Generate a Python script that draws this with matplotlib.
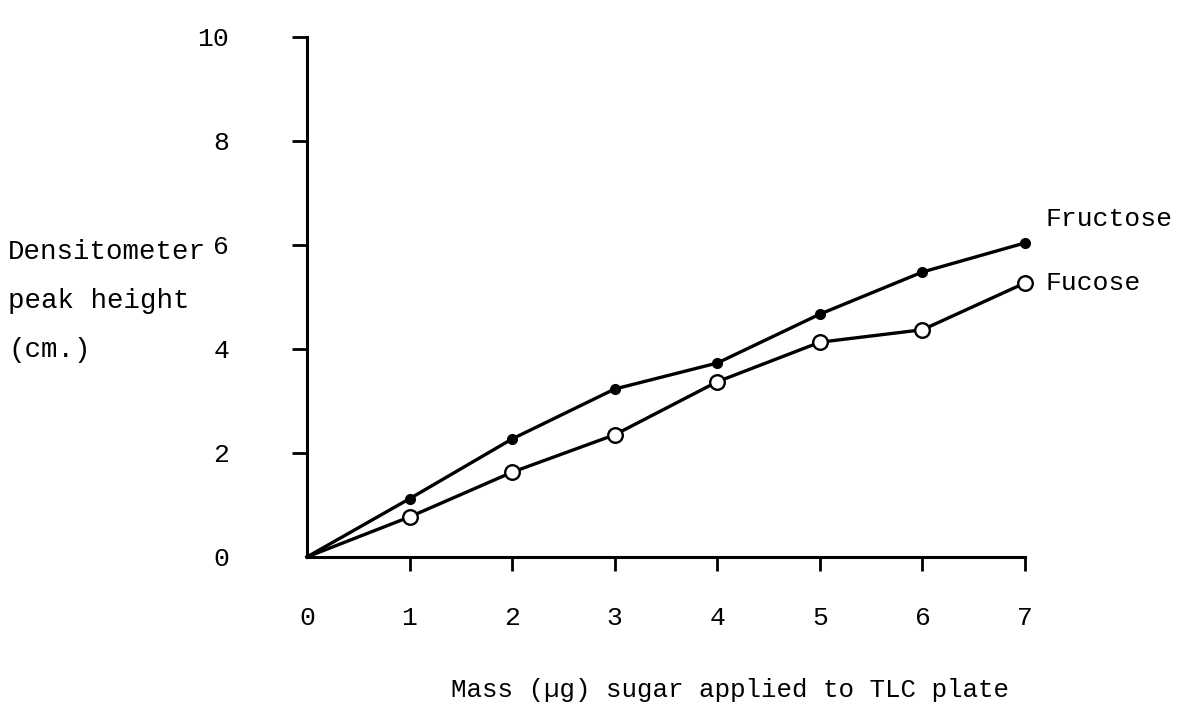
import numpy as np
import matplotlib
matplotlib.use("Agg")
import matplotlib.pyplot as plt

# values (y scale in cm, x in micrograms)
mass = [0, 1, 2, 3, 4, 5, 6, 7]
fructose = [0, 1.12, 2.27, 3.23, 3.73, 4.67, 5.48, 6.04]
fucose = [0, 0.77, 1.63, 2.35, 3.37, 4.13, 4.37, 5.27]
xticks = [0, 1, 2, 3, 4, 5, 6, 7]
yticks = [0, 2, 4, 6, 8, 10]

plt.rcParams['font.family'] = ['Liberation Mono', 'DejaVu Sans Mono']
fs = 19

fig = plt.figure(figsize=(11.77, 7.07), dpi=100)
ax = fig.add_axes([0.2608, 0.2122, 0.8709 - 0.2608, 0.9477 - 0.2122])

# no marker at the origin, lines just start there
ax.plot(mass, fructose, color='black', lw=2.4, marker='o', ms=7,
        mfc='black', mec='black', markevery=slice(1, None), clip_on=False, zorder=3)
ax.plot(mass, fucose, color='black', lw=2.4, marker='o', ms=10.5,
        mfc='white', mec='black', mew=1.7, markevery=slice(1, None), clip_on=False, zorder=3)

ax.set_xlim(0, 7)
ax.set_ylim(0, 10)
ax.set_xticks(xticks)
ax.set_yticks(yticks)
ax.set_xticklabels([str(v) for v in xticks])
ax.set_yticklabels([str(v) for v in yticks])

for side in ['top', 'right']:
    ax.spines[side].set_visible(False)
for side in ['left', 'bottom']:
    ax.spines[side].set_linewidth(2.2)

ax.tick_params(axis='x', direction='out', length=10, width=2, pad=25, labelsize=fs)
ax.tick_params(axis='y', direction='out', length=11, width=2, pad=45, labelsize=fs)
ax.xaxis.get_major_ticks()[0].tick1line.set_visible(False)
ax.yaxis.get_major_ticks()[0].tick1line.set_visible(False)

ax.text(7.2, fructose[-1] + 0.45, 'Fructose', fontsize=fs, va='center', ha='left')
ax.text(7.2, fucose[-1], 'Fucose', fontsize=fs, va='center', ha='left')

fig.text(8 / 1177, 1 - 301 / 707, 'Densitometer\npeak height\n(cm.)', fontsize=19.8,
         ha='left', va='center', linespacing=2.15)
fig.text(730 / 1177, 1 - 690 / 707, 'Mass (\u00b5g) sugar applied to TLC plate',
         fontsize=18.6, ha='center', va='center')

fig.savefig('out.png', dpi=100)
